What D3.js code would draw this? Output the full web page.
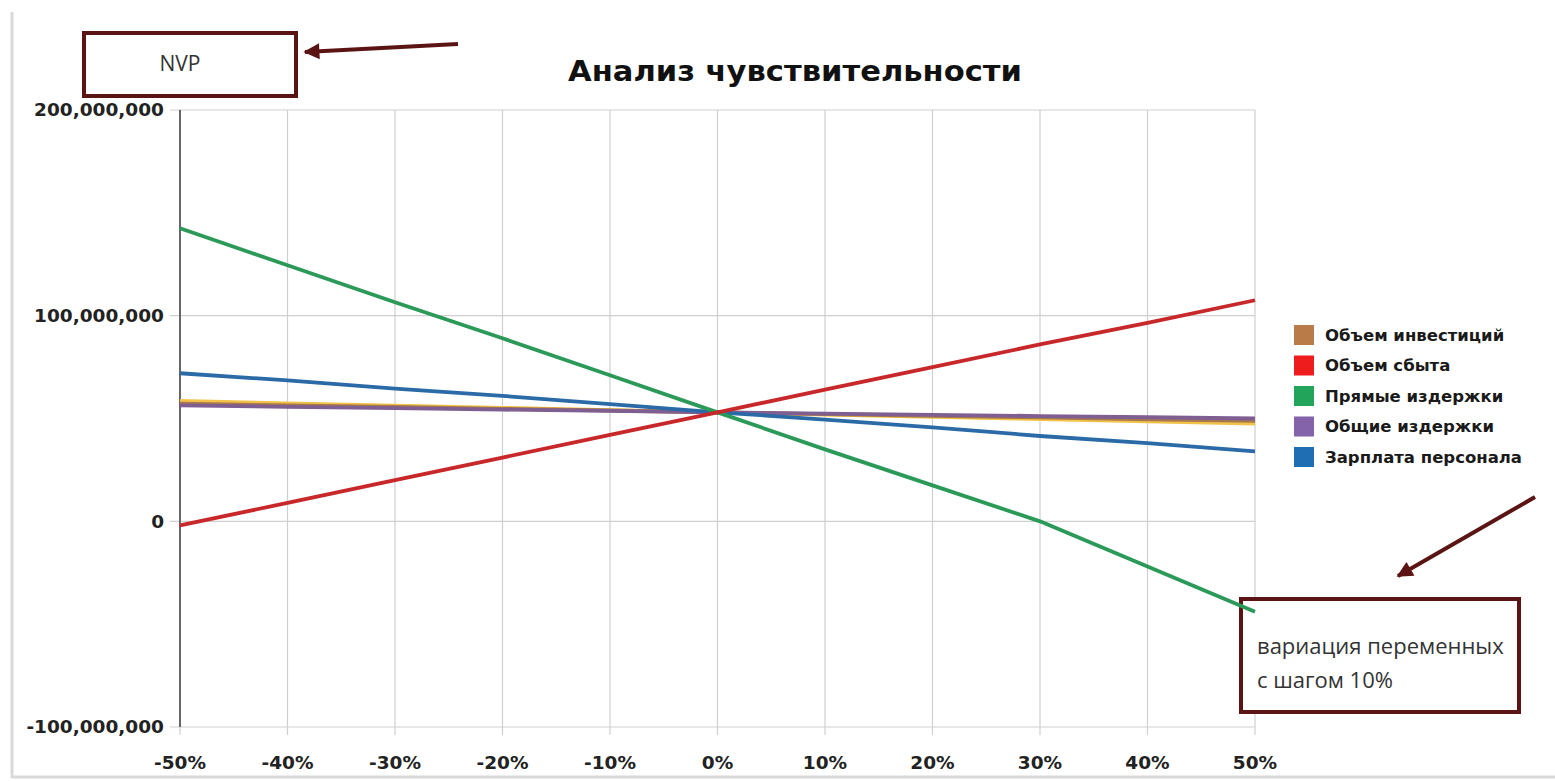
<!DOCTYPE html>
<html>
<head>
<meta charset="utf-8">
<script src="https://cdn.jsdelivr.net/npm/d3@7"></script>
<style>
  body { margin: 0; background: #fff; }
  svg { display: block; }
</style>
</head>
<body>
<svg width="1555" height="781"></svg>
<script>

// variation steps, %
var categories = [-50, -40, -30, -20, -10, 0, 10, 20, 30, 40, 50];
var xTickLabels = ["-50%", "-40%", "-30%", "-20%", "-10%", "0%", "10%", "20%", "30%", "40%", "50%"];

// NPV, millions
var yTicks = [200, 100, 0, -100];
var yTickLabels = ["200,000,000", "100,000,000", "0", "-100,000,000"];

var seriesNames = ["Объем инвестиций", "Объем сбыта", "Прямые издержки", "Общие издержки", "Зарплата персонала"];
var swatchColors = ["#b97c48", "#ee1c1c", "#22a45a", "#8463aa", "#1f6db3"];

var yellowVals = [58.5, 57.4, 56.3, 55.2, 54.1, 53, 51.9, 50.8, 49.7, 48.6, 47.5];
var investVals = [57.2, 56.4, 55.6, 54.7, 53.9, 53, 52.1, 51.3, 50.5, 49.6, 48.8];
var salesVals = [-2, 9, 20, 31, 42, 53, 64, 75, 86, 96.5, 107.5];
var directVals = [142.5, 124.5, 106.5, 89, 71, 53, 35, 17.5, 0, -22, -44];
var generalVals = [56.4, 55.7, 55, 54.3, 53.7, 53, 52.4, 51.8, 51.2, 50.6, 50];
var salaryVals = [72, 68.5, 64.5, 61, 57, 53, 49.5, 45.7, 41.5, 38, 34];

var svg = d3.select("svg");
var maroon = "#5b1414";

var x = d3.scaleLinear().domain([-50, 50]).range([180, 1255]);
var y = d3.scaleLinear().domain([-100, 200]).range([727, 110]);

// screenshot frame
svg.append("line").attr("x1", 12).attr("x2", 12).attr("y1", 12).attr("y2", 778)
   .attr("stroke", "#d9d9d9").attr("stroke-width", 3);
svg.append("line").attr("x1", 12).attr("x2", 1555).attr("y1", 777).attr("y2", 777)
   .attr("stroke", "#d9d9d9").attr("stroke-width", 3);

/* grid */
var grid = svg.append("g").attr("class", "grid");

grid.selectAll("line.v").data(categories).enter().append("line")
    .attr("class", "v")
    .attr("x1", function(d) { return x(d); })
    .attr("x2", function(d) { return x(d); })
    .attr("y1", y(200))
    .attr("y2", y(-100) + 8)
    .attr("stroke", "#cfcfcf")
    .attr("stroke-width", 1.2);

grid.selectAll("line.h").data(yTicks).enter().append("line")
    .attr("class", "h")
    .attr("x1", x(-50) - 10)
    .attr("x2", x(50))
    .attr("y1", function(d) { return y(d); })
    .attr("y2", function(d) { return y(d); })
    .attr("stroke", "#cfcfcf")
    .attr("stroke-width", 1.2);

// y axis line
svg.append("line").attr("x1", x(-50)).attr("x2", x(-50))
   .attr("y1", y(200)).attr("y2", y(-100))
   .attr("stroke", "#666").attr("stroke-width", 2);

/* tick labels */
svg.append("g").selectAll("text").data(yTicks).enter().append("text")
   .attr("x", 164)
   .attr("y", function(d) { return y(d); })
   .attr("dy", "0.35em")
   .attr("text-anchor", "end")
   .attr("font-family", "DejaVu Sans")
   .attr("font-weight", "bold")
   .attr("font-size", 18.5)
   .attr("fill", "#222")
   .text(function(d, i) { return yTickLabels[i]; });

svg.append("g").selectAll("text").data(categories).enter().append("text")
   .attr("x", function(d) { return x(d); })
   .attr("y", 769)
   .attr("text-anchor", "middle")
   .attr("font-family", "DejaVu Sans")
   .attr("font-weight", "bold")
   .attr("font-size", 18.5)
   .attr("fill", "#222")
   .text(function(d, i) { return xTickLabels[i]; });

// note box sits under the lines (green one runs into its corner)
svg.append("rect")
   .attr("x", 1241).attr("y", 599).attr("width", 278).attr("height", 113)
   .attr("fill", "#fff").attr("stroke", maroon).attr("stroke-width", 4);

/* lines */
var line = d3.line()
  .x(function(d, i) { return x(categories[i]); })
  .y(function(d) { return y(d); });

var lines = [
  { vals: yellowVals, color: "#f2c24a" },
  { vals: investVals, color: "#a8794a" },
  { vals: generalVals, color: "#7f5e92" },
  { vals: salaryVals, color: "#2a6aa6" },
  { vals: directVals, color: "#2b9a58" },
  { vals: salesVals, color: "#c8282a" }
];

svg.append("g").selectAll("path").data(lines).enter().append("path")
   .attr("d", function(d) { return line(d.vals); })
   .attr("fill", "none")
   .attr("stroke", function(d) { return d.color; })
   .attr("stroke-width", 3.8)
   .attr("stroke-linejoin", "round");

/* title */
svg.append("text")
   .attr("x", 795).attr("y", 81)
   .attr("text-anchor", "middle")
   .attr("font-family", "DejaVu Sans")
   .attr("font-weight", "bold")
   .attr("font-size", 29)
   .attr("textLength", 454)
   .attr("lengthAdjust", "spacingAndGlyphs")
   .attr("fill", "#111")
   .text("Анализ чувствительности");

/* legend */
var legend = svg.append("g").attr("class", "legend");
var rows = legend.selectAll("g").data(seriesNames).enter().append("g")
   .attr("transform", function(d, i) { return "translate(1294," + (335 + i * 30.5) + ")"; });

rows.append("rect")
   .attr("x", 0).attr("y", -10)
   .attr("width", 20).attr("height", 20)
   .attr("fill", function(d, i) { return swatchColors[i]; });

rows.append("text")
   .attr("x", 31).attr("y", 0).attr("dy", "0.35em")
   .attr("font-family", "DejaVu Sans")
   .attr("font-weight", "bold")
   .attr("font-size", 16.5)
   .attr("fill", "#1a1a1a")
   .text(function(d) { return d; });

/* annotations */
svg.append("defs").append("marker")
   .attr("id", "head")
   .attr("viewBox", "0 0 10 10")
   .attr("refX", 9).attr("refY", 5)
   .attr("markerWidth", 5).attr("markerHeight", 4)
   .attr("markerUnits", "strokeWidth")
   .attr("orient", "auto")
   .append("path")
   .attr("d", "M0,0 L10,5 L0,10 Z")
   .attr("fill", maroon);

svg.append("rect")
   .attr("x", 84).attr("y", 33).attr("width", 212).attr("height", 63)
   .attr("fill", "#fff").attr("stroke", maroon).attr("stroke-width", 4);
svg.append("text")
   .attr("x", 180).attr("y", 71)
   .attr("text-anchor", "middle")
   .attr("font-family", "Open Sans")
   .attr("font-size", 21)
   .attr("fill", "#333")
   .text("NVP");
svg.append("line")
   .attr("x1", 458).attr("y1", 44).attr("x2", 305).attr("y2", 52)
   .attr("stroke", maroon).attr("stroke-width", 4)
   .attr("marker-end", "url(#head)");

svg.append("text")
   .attr("x", 1257).attr("y", 654)
   .attr("font-family", "Open Sans")
   .attr("font-size", 22)
   .attr("fill", "#333")
   .text("вариация переменных");
svg.append("text")
   .attr("x", 1257).attr("y", 688)
   .attr("font-family", "Open Sans")
   .attr("font-size", 22)
   .attr("fill", "#333")
   .text("с шагом 10%");
svg.append("line")
   .attr("x1", 1535).attr("y1", 497).attr("x2", 1398).attr("y2", 576)
   .attr("stroke", maroon).attr("stroke-width", 4)
   .attr("marker-end", "url(#head)");

</script>
</body>
</html>
